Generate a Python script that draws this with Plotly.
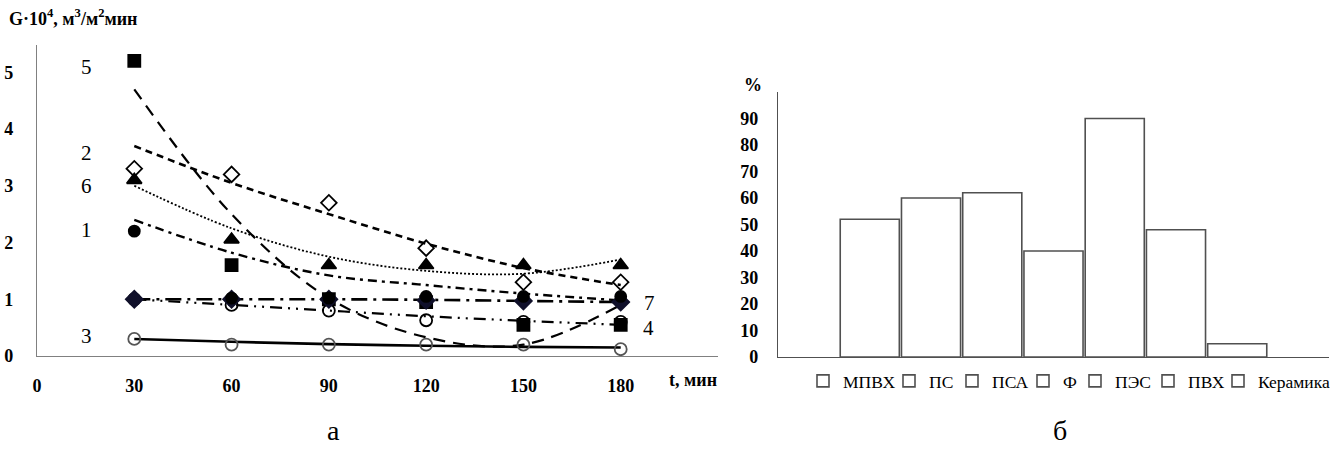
import plotly.graph_objects as go

# ---------------- data: panel а ----------------
t = [30, 60, 90, 120, 150, 180]
s1 = [2.2, 1.02, 1.02, 1.05, 1.05, 1.05]
s2 = [3.3, 3.2, 2.7, 1.9, 1.3, 1.3]
s3 = [0.3, 0.2, 0.2, 0.2, 0.2, 0.12]
s4 = [1.0, 0.9, 0.8, 0.63, 0.6, 0.6]
s5 = [5.2, 1.6, 1.0, 0.95, 0.55, 0.55]
s6 = [3.1, 2.05, 1.6, 1.6, 1.6, 1.6]
s7 = [1.0, 1.0, 1.0, 0.98, 0.97, 0.95]

# trend lines
tr1 = [2.4, 1.82, 1.42, 1.25, 1.1, 0.98]
tr2 = [3.7, 3.05, 2.5, 1.98, 1.55, 1.25]
tr3 = [0.3, 0.25, 0.21, 0.18, 0.16, 0.15]
tr4 = [1.0, 0.9, 0.8, 0.7, 0.62, 0.55]
tr5 = [4.7, 2.5, 1.02, 0.33, 0.2, 0.9]
tr6 = [3.0, 2.25, 1.75, 1.5, 1.45, 1.7]
tr7 = [1.0, 1.0, 1.0, 0.99, 0.97, 0.95]

x_ticks = [0, 30, 60, 90, 120, 150, 180]
y_ticks = [0, 1, 2, 3, 4, 5]

# ---------------- data: panel б ----------------
materials = ["МПВХ", "ПС", "ПСА", "Ф", "ПЭС", "ПВХ", "Керамика"]
percents = [52, 60, 62, 40, 90, 48, 5]
pct_ticks = [0, 10, 20, 30, 40, 50, 60, 70, 80, 90]

SERIF = "Liberation Serif"
W, H = 1330, 458

fig = go.Figure()

trends = [
    (tr5, "12px,8px", 2.2),
    (tr2, "7px,5px", 2.6),
    (tr6, "2px,2px", 1.8),
    (tr1, "9px,5px,3px,5px", 2.4),
    (tr7, "16px,6px,3px,6px", 2.6),
    (tr4, "12px,6px,2px,6px,2px,6px", 2.2),
    (tr3, "solid", 2.6),
]
for vals, dash, w in trends:
    fig.add_trace(go.Scatter(x=t, y=vals, mode="lines",
                             line=dict(color="black", dash=dash, width=w, shape="spline", smoothing=1.0),
                             showlegend=False, hoverinfo="skip", xaxis="x", yaxis="y"))

markers = [
    (s3, "circle-open", 12, "#555555"),
    (s4, "circle-open", 12, "black"),
    (s5, "square", 12, "black"),
    (s7, "diamond", 13, "#10102a"),
    (s1, "circle", 11, "black"),
    (s6, "triangle-up", 13, "black"),
    (s2, "diamond-open", 12, "black"),
]
for vals, sym, sz, col in markers:
    fig.add_trace(go.Scatter(x=t, y=vals, mode="markers",
                             marker=dict(symbol=sym, size=sz, color=col, line=dict(color=col, width=1.8)),
                             showlegend=False, xaxis="x", yaxis="y"))


def px_x(p):
    return p / W


def px_y(p):
    return 1 - p / H


# bars, each with its own legend box so entries sit like the reference
legend_text_x = [836, 922, 985, 1056, 1108, 1181, 1251]
legend_layouts = {}
for i, (name, v) in enumerate(zip(materials, percents)):
    lname = "legend" if i == 0 else f"legend{i + 1}"
    fig.add_trace(go.Bar(x=[""], y=[v], name=name,
                         marker=dict(color="white", line=dict(color="#505050", width=1.6)),
                         xaxis="x2", yaxis="y2", legend=lname))
    legend_layouts[lname] = dict(
        orientation="h", x=px_x(legend_text_x[i] - 33), y=px_y(381), xanchor="left", yanchor="middle",
        font=dict(family=SERIF, size=17.5, color="black"), itemwidth=30,
        bgcolor="rgba(0,0,0,0)", borderwidth=0)

tickf = dict(family=SERIF, size=18, color="black", weight="bold")

fig.update_layout(
    width=W, height=H,
    margin=dict(l=0, r=0, t=0, b=0, autoexpand=False),
    paper_bgcolor="white", plot_bgcolor="white",
    font=dict(family=SERIF, color="black"),
    barmode="group", bargap=0.222, bargroupgap=0.035,
    xaxis=dict(domain=[px_x(37), px_x(718)], range=[0, 210], tickvals=x_ticks, anchor="y",
               showgrid=False, zeroline=False, showline=True, linecolor="#808080", linewidth=1.2,
               ticks="", ticklabelstandoff=13, tickfont=tickf, fixedrange=True),
    yaxis=dict(domain=[px_y(356), px_y(45)], range=[0, 5.48], tickvals=y_ticks, anchor="x",
               showgrid=False, zeroline=False, showline=True, linecolor="#808080", linewidth=1.2,
               ticks="", ticklabelstandoff=19, tickfont=tickf, fixedrange=True),
    xaxis2=dict(domain=[px_x(778), px_x(1329)], anchor="y2", showgrid=False, zeroline=False, showline=True,
                linecolor="#505050", linewidth=1.4, ticks="", showticklabels=False, fixedrange=True),
    yaxis2=dict(domain=[px_y(357), px_y(92)], anchor="x2", range=[0, 100], tickvals=pct_ticks,
                showgrid=False, zeroline=False, showline=True, linecolor="#505050", linewidth=1.4,
                ticks="", ticklabelstandoff=15, tickfont=tickf, fixedrange=True),
    showlegend=True,
    **legend_layouts,
)

annots = [
    dict(text="<b>G·10<sup>4</sup>, м<sup>3</sup>/м<sup>2</sup>мин</b>", x=px_x(7), y=px_y(18), xanchor="left",
         yanchor="middle", font=dict(size=18)),
    dict(text="<b>t, мин</b>", x=px_x(667), y=px_y(380), xanchor="left", yanchor="middle", font=dict(size=18)),
    dict(text="<b>%</b>", x=px_x(753), y=px_y(85), xanchor="center", yanchor="middle", font=dict(size=18)),
    dict(text="а", x=px_x(333), y=px_y(430), xanchor="center", yanchor="middle", font=dict(size=28)),
    dict(text="б", x=px_x(1060), y=px_y(430), xanchor="center", yanchor="middle", font=dict(size=28)),
]
for a in annots:
    a.update(xref="paper", yref="paper", showarrow=False)
    a["font"]["family"] = SERIF
    a["font"]["color"] = "black"
    fig.add_annotation(**a)

# curve number labels placed in data coordinates
curve_labels = ["5", "2", "6", "1", "3", "7", "4"]
label_x = [15.4, 15.4, 15.4, 15.4, 15.4, 189, 188.5]
label_y = [5.1, 3.57, 2.99, 2.22, 0.35, 0.93, 0.49]
for txt, lx, ly in zip(curve_labels, label_x, label_y):
    fig.add_annotation(text=txt, x=lx, y=ly, xref="x", yref="y", showarrow=False,
                       font=dict(family=SERIF, size=21, color="black"))

fig.write_html("out.html")
